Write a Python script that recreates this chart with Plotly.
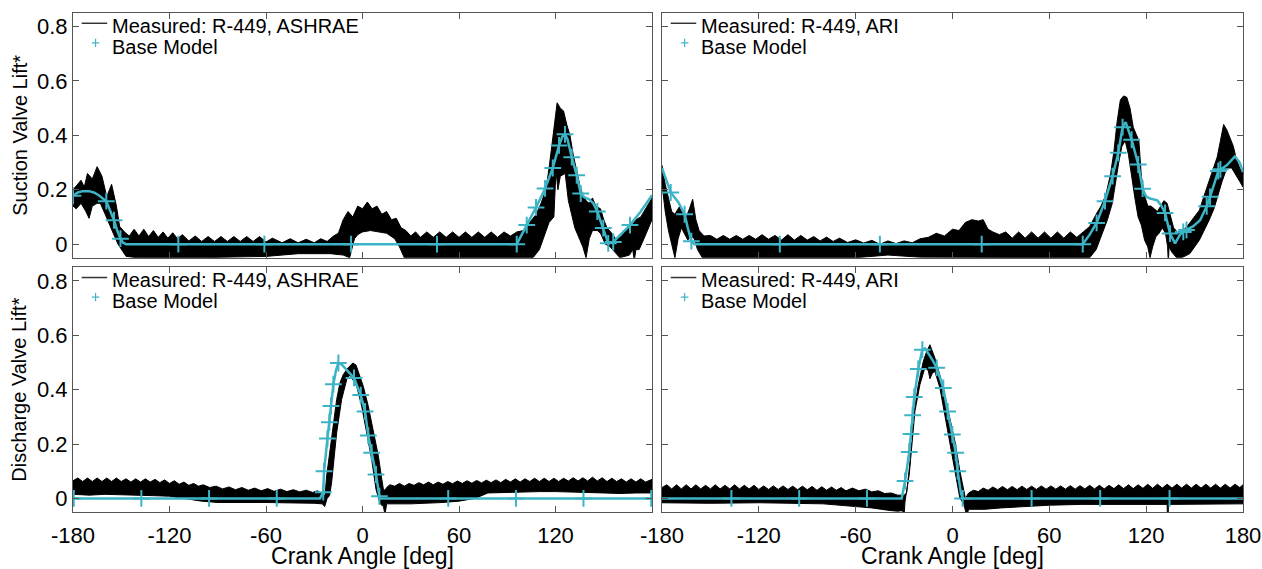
import plotly.graph_objects as go

# ---------------- tick labels ----------------
x_tick_vals = [-180, -120, -60, 0, 60, 120, 180]
x_tick_text_left = ['-180', '-120', '-60', '0', '60', '120', '']
x_tick_text_right = ['-180', '-120', '-60', '0', '60', '120', '180']
y_tick_vals = [0, 0.2, 0.4, 0.6, 0.8]
y_tick_text = ['0', '0.2', '0.4', '0.6', '0.8']

measured_names = ['Measured: R-449, ASHRAE', 'Measured: R-449, ARI',
                  'Measured: R-449, ASHRAE', 'Measured: R-449, ARI']
model_name = 'Base Model'
y_titles = ['Suction Valve Lift*', 'Discharge Valve Lift*']
x_title = 'Crank Angle [deg]'

# ---------------- Panel A: suction, ASHRAE ----------------
A_up = [(-180,0.20),(-177,0.22),(-175,0.235),(-173,0.21),(-171,0.26),(-168,0.24),(-165,0.285),(-162,0.25),
        (-159,0.175),(-156,0.22),(-153,0.14),(-151,0.065),(-148,0.045),(-145,0.03),(-142,0.055),(-139,0.03),
        (-136,0.055),(-133,0.028),(-130,0.05),(-127,0.025),(-124,0.045),(-121,0.022),(-118,0.042),(-115,0.02),
        (-112,0.035),(-108,0.012),(-104,0.03),(-100,0.01),(-96,0.028),(-92,0.01),(-88,0.028),(-84,0.01),
        (-80,0.028),(-76,0.01),(-72,0.028),(-68,0.01),(-64,0.028),(-60,0.008),(-56,0.022),(-50,0.005),
        (-45,0.02),(-40,0.005),(-35,0.018),(-30,0.005),(-26,0.02),(-22,0.01),(-18,0.03),(-15,0.04),
        (-12,0.09),(-9,0.12),(-6,0.10),(-3,0.14),(0,0.13),(3,0.155),(6,0.13),(9,0.14),(12,0.11),(15,0.12),
        (18,0.09),(21,0.095),(24,0.06),(27,0.05),(30,0.03),(33,0.045),(36,0.025),(40,0.045),(44,0.025),
        (48,0.045),(52,0.025),(56,0.045),(60,0.025),(64,0.045),(68,0.025),(72,0.045),(76,0.025),(80,0.045),
        (84,0.025),(88,0.045),(92,0.03),(96,0.045),(100,0.05),(104,0.08),(108,0.11),(111,0.15),(114,0.20),
        (116,0.28),(118,0.38),(120,0.47),(121,0.52),(123,0.50),(125,0.49),(127,0.44),(129,0.40),(131,0.33),
        (133,0.27),(135,0.22),(137,0.18),(139,0.16),(141,0.15),(143,0.17),(145,0.14),(148,0.13),(150,0.09),
        (152,0.06),(155,0.04),(158,0.015),(161,0.03),(164,0.05),(167,0.07),(170,0.09),(173,0.10),(176,0.13),
        (178,0.15),(180,0.17)]
A_lo = [(-180,0.14),(-178,0.13),(-175,0.15),(-172,0.12),(-170,0.095),(-168,0.14),(-165,0.15),(-163,0.15),
        (-160,0.11),(-157,0.07),(-155,0.04),(-152,0.0),(-150,-0.02),(-147,-0.045),(-140,-0.05),(-100,-0.05),
        (-60,-0.045),(-40,-0.035),(-20,-0.035),(-12,-0.04),(-8,-0.05),(-5,0.02),(-3,0.035),(0,0.045),
        (5,0.05),(10,0.045),(15,0.04),(20,0.02),(23,-0.01),(26,-0.05),(106,-0.05),(110,-0.02),(113,0.03),
        (116,0.08),(119,0.10),(120.3,0.27),(121.5,0.20),(123,0.25),(126,0.26),(128,0.16),(130,0.11),
        (132,0.06),(134,0.03),(137,-0.01),(139,-0.05),(141,0.02),(143,0.05),(146,0.05),(148,0.04),(151,0.0),
        (154,-0.01),(157,-0.03),(160,-0.05),(166,-0.04),(168,-0.02),(169,-0.06),(170,-0.02),(172,-0.02),
        (175,0.02),(178,0.06),(180,0.09)]
A_model = [(-180,0.178),(-177,0.19),(-174,0.195),(-170,0.195),(-167,0.19),(-164,0.18),(-161.5,0.168),
           (-159.3,0.158),(-157,0.125),(-154.5,0.088),(-152.5,0.05),(-150.5,0.02),(-149,0.006),(-147,0.0),
           (95.9,0.0),(102.1,0.07),(107.9,0.135),(113.5,0.205),(118.3,0.28),(122.2,0.363),(124.2,0.395),
           (125.9,0.404),(127.5,0.385),(130.1,0.32),(133.2,0.253),(135.7,0.186),(138,0.172),(141,0.165),
           (143.5,0.15),(146,0.12),(149.7,0.059),(152.8,0.003),(155.9,0.008),(161,0.04),(166.3,0.07),
           (173,0.12),(180,0.18)]
A_marks = [(-180,0.178),(-159.3,0.158),(-154.5,0.088),(-150.5,0.02),(-114.5,0),(-61,0),(-7.1,0),(46.3,0),
           (95.9,0),(102.1,0.07),(107.9,0.135),(113.5,0.205),(118.3,0.28),(122.2,0.363),(125.9,0.404),
           (130.1,0.32),(133.2,0.253),(135.7,0.186),(146,0.12),(149.7,0.059),(152.8,0.003),(155.9,0.008),
           (166.3,0.07)]

# ---------------- Panel B: suction, ARI ----------------
B_up = [(-180,0.29),(-178,0.22),(-176,0.17),(-174,0.12),(-172,0.11),(-169,0.14),(-167,0.12),(-165,0.10),
        (-163,0.13),(-161,0.165),(-159,0.09),(-157,0.05),(-154,0.03),(-150,0.032),(-146,0.018),(-142,0.032),
        (-138,0.018),(-134,0.032),(-130,0.018),(-126,0.032),(-122,0.018),(-118,0.035),(-114,0.018),
        (-110,0.032),(-106,0.015),(-102,0.035),(-98,0.015),(-94,0.032),(-90,0.015),(-86,0.028),(-82,0.012),
        (-78,0.026),(-74,0.01),(-70,0.022),(-65,0.006),(-60,0.016),(-55,0.004),(-50,0.014),(-45,0.0),
        (-40,0.012),(-35,0.002),(-30,0.012),(-25,0.005),(-20,0.02),(-15,0.025),(-10,0.04),(-5,0.03),
        (0,0.055),(4,0.05),(8,0.08),(12,0.09),(16,0.085),(19,0.09),(22,0.055),(25,0.045),(29,0.035),
        (33,0.045),(37,0.022),(41,0.045),(45,0.022),(49,0.045),(53,0.022),(57,0.045),(61,0.022),(65,0.045),
        (69,0.022),(73,0.045),(77,0.025),(81,0.045),(85,0.065),(89,0.11),(92,0.14),(95,0.18),(98,0.26),
        (100,0.34),(102,0.45),(104,0.53),(106,0.545),(108,0.54),(110,0.50),(112,0.43),(114,0.40),
        (115.5,0.38),(117,0.25),(119,0.18),(121,0.14),(123,0.14),(125,0.13),(127,0.12),(129,0.14),
        (131,0.16),(133,0.15),(135,0.10),(137,0.06),(140,0.04),(143,0.05),(146,0.07),(150,0.10),
        (153,0.125),(156,0.18),(159,0.235),(162,0.29),(164,0.32),(166,0.38),(168,0.44),(170,0.42),
        (172,0.39),(174,0.36),(176,0.31),(178,0.28),(180,0.26)]
B_lo = [(-180,0.22),(-178,0.12),(-176,0.05),(-174,0.0),(-172,-0.05),(-170,0.02),(-168,0.06),(-166,0.04),
        (-164,0.015),(-162,0.03),(-160,0.02),(-158,-0.02),(-155,-0.05),(-60,-0.05),(-40,-0.04),(-20,-0.048),
        (85,-0.05),(89,-0.02),(93,0.04),(96,0.09),(99,0.15),(101,0.22),(103,0.30),(105,0.36),(107,0.38),
        (109,0.33),(111,0.25),(113,0.17),(115,0.10),(117,0.07),(119,0.015),(121,-0.01),(122.4,-0.05),
        (124,-0.01),(126,0.027),(128,0.04),(130,0.06),(132,0.04),(133.3,-0.01),(133.7,-0.07),(134.2,-0.01),
        (136,-0.03),(138.9,-0.05),(142,-0.05),(147,-0.035),(150,-0.01),(153,0.015),(156,0.05),(159,0.088),
        (162,0.13),(164,0.17),(167,0.23),(170,0.28),(173,0.28),(176,0.25),(178,0.23),(180,0.21)]
B_model = [(-180,0.28),(-177,0.23),(-174.6,0.19),(-170,0.155),(-166,0.11),(-164,0.06),(-161.8,0.011),
           (-160,0.0),(80.7,0.0),(85,0.035),(89.3,0.078),(94.5,0.158),(99.2,0.25),(102.7,0.336),(105.4,0.43),
           (107.3,0.449),(111,0.384),(115.1,0.293),(117.8,0.204),(120,0.175),(122.4,0.168),(126.9,0.161),
           (129,0.145),(131.7,0.115),(134.8,0.039),(137.9,0.003),(141,0.035),(144.1,0.05),(149.2,0.066),
           (153.4,0.088),(157.5,0.139),(159.6,0.174),(164.7,0.269),(169.9,0.29),(175,0.323),(178,0.30),
           (180,0.265)]
B_marks = [(-174.6,0.19),(-166,0.11),(-161.8,0.011),(-107,0),(-45,0),(18.1,0),(80.7,0),(89.3,0.078),
           (94.5,0.158),(99.2,0.25),(102.7,0.336),(105.4,0.43),(111,0.384),(115.1,0.293),(117.8,0.204),
           (131.7,0.115),(134.8,0.039),(143,0.045),(145,0.052),(157.5,0.139),(159.6,0.174),(164.7,0.269),
           (166,0.275)]

# ---------------- Panel C: discharge, ASHRAE ----------------
C_up = [(-180,0.065),(-177,0.075),(-174,0.062),(-171,0.075),(-168,0.062),(-165,0.075),(-162,0.062),
        (-159,0.075),(-156,0.062),(-153,0.075),(-150,0.062),(-147,0.072),(-144,0.06),(-141,0.072),
        (-138,0.06),(-135,0.072),(-132,0.06),(-129,0.07),(-126,0.058),(-123,0.068),(-120,0.055),
        (-117,0.065),(-114,0.052),(-111,0.06),(-108,0.048),(-105,0.055),(-102,0.045),(-99,0.05),(-95,0.04),
        (-91,0.045),(-87,0.035),(-83,0.042),(-79,0.032),(-75,0.04),(-71,0.03),(-67,0.038),(-63,0.028),
        (-59,0.036),(-55,0.026),(-51,0.034),(-47,0.025),(-43,0.032),(-39,0.024),(-35,0.03),(-31,0.022),
        (-28,0.028),(-26,0.02),(-23.3,0.01),(-22.3,0.082),(-20.2,0.18),(-18.1,0.279),(-16.1,0.363),
        (-14,0.425),(-12,0.455),(-9,0.48),(-6,0.498),(-4,0.49),(-2.6,0.467),(0.5,0.412),(3.6,0.339),
        (6.7,0.241),(9.9,0.155),(12,0.07),(13,0.033),(14,0.03),(15,0.04),(17,0.05),(20,0.045),(23,0.055),
        (26,0.045),(29,0.055),(32,0.048),(35,0.058),(38,0.05),(41,0.06),(44,0.05),(47,0.06),(50,0.052),
        (53,0.062),(56,0.054),(59,0.064),(62,0.055),(65,0.065),(68,0.056),(71,0.066),(74,0.057),(77,0.067),
        (80,0.058),(83,0.068),(86,0.058),(89,0.07),(92,0.06),(95,0.072),(98,0.06),(101,0.072),(104,0.062),
        (107,0.074),(110,0.062),(113,0.074),(116,0.062),(119,0.074),(122,0.062),(125,0.074),(128,0.064),
        (131,0.076),(134,0.064),(137,0.076),(140,0.064),(143,0.078),(146,0.064),(149,0.076),(152,0.062),
        (155,0.074),(158,0.062),(161,0.072),(164,0.06),(167,0.072),(170,0.06),(173,0.072),(176,0.06),
        (180,0.07)]
C_lo = [(-180,0.015),(-170,0.012),(-160,0.015),(-150,0.012),(-140,0.012),(-130,0.01),(-120,0.008),
        (-110,0.0),(-100,-0.01),(-90,-0.015),(-80,-0.015),(-70,-0.015),(-60,-0.015),(-50,-0.016),
        (-40,-0.016),(-30,-0.018),(-25,-0.02),(-23.5,-0.03),(-22,0.0),(-20.5,0.01),(-19.2,0.058),
        (-16.1,0.24),(-13,0.363),(-9.8,0.437),(-7.8,0.455),(-3.6,0.412),(-0.5,0.339),(2.6,0.241),
        (5.7,0.143),(8.4,0.033),(9.9,0.0),(11,-0.02),(13,-0.03),(14,-0.06),(15,-0.02),(20,-0.02),
        (30,-0.02),(40,-0.018),(50,-0.015),(60,-0.01),(70,0.0),(78,0.02),(90,0.022),(100,0.024),
        (110,0.025),(120,0.025),(130,0.024),(140,0.022),(150,0.02),(160,0.018),(170,0.02),(180,0.02)]
C_model = [(-180,0),(-26.4,0),(-24.4,0.023),(-23.9,0.1),(-21.8,0.22),(-20.6,0.28),(-19.6,0.34),
           (-18.1,0.42),(-16.5,0.47),(-15,0.498),(-13,0.493),(-10.9,0.48),(-8,0.463),(-5.3,0.443),
           (-1.1,0.38),(1.6,0.32),(3.6,0.231),(5.7,0.168),(8.4,0.088),(10.5,0.008),(11,0),(180,0)]
C_marks = [(-179.5,0),(-137.5,0),(-95.4,0),(-53.3,0),(-24.4,0.023),(-23.9,0.1),(-21.8,0.22),(-20.6,0.28),
           (-19.6,0.34),(-18.1,0.42),(-15,0.498),(-5.3,0.443),(-1.1,0.38),(1.6,0.32),(3.6,0.231),
           (5.7,0.168),(8.4,0.088),(10.5,0.008),(53.3,0),(95.4,0),(137.4,0),(179.5,0)]

# ---------------- Panel D: discharge, ARI ----------------
D_up = [(-180,0.04),(-177,0.05),(-174,0.035),(-171,0.05),(-168,0.035),(-165,0.05),(-162,0.035),
        (-159,0.05),(-156,0.035),(-153,0.048),(-150,0.035),(-147,0.05),(-144,0.035),(-141,0.048),
        (-138,0.035),(-135,0.05),(-132,0.035),(-129,0.048),(-126,0.035),(-123,0.048),(-120,0.033),
        (-117,0.046),(-114,0.033),(-111,0.046),(-108,0.033),(-105,0.046),(-102,0.033),(-99,0.045),
        (-96,0.032),(-93,0.045),(-90,0.032),(-87,0.044),(-84,0.03),(-81,0.043),(-78,0.03),(-75,0.042),
        (-72,0.03),(-69,0.04),(-66,0.028),(-62,0.038),(-58,0.028),(-54,0.034),(-50,0.024),(-46,0.028),
        (-42,0.018),(-38,0.02),(-34,0.012),(-30,0.012),(-28.4,0.02),(-26.3,0.137),(-24.3,0.296),
        (-21.2,0.418),(-18.1,0.504),(-16,0.54),(-14,0.565),(-12.5,0.54),(-10.9,0.516),(-6.7,0.43),
        (-2.6,0.32),(1.5,0.21),(4.6,0.10),(7,0.02),(8,0.0),(10,0.02),(13,0.03),(16,0.025),(19,0.038),
        (22,0.03),(25,0.042),(28,0.032),(31,0.044),(34,0.032),(37,0.044),(40,0.032),(43,0.045),(46,0.033),
        (49,0.045),(52,0.033),(55,0.046),(58,0.034),(61,0.046),(64,0.034),(67,0.046),(70,0.034),(73,0.047),
        (76,0.034),(79,0.047),(82,0.035),(85,0.048),(88,0.035),(91,0.048),(94,0.035),(97,0.048),(100,0.036),
        (103,0.05),(106,0.036),(109,0.05),(112,0.036),(115,0.05),(118,0.037),(121,0.052),(124,0.037),
        (127,0.052),(130,0.038),(133,0.052),(136,0.038),(139,0.052),(142,0.038),(145,0.052),(148,0.038),
        (151,0.052),(154,0.038),(157,0.052),(160,0.038),(163,0.052),(166,0.038),(169,0.052),(172,0.038),
        (175,0.052),(178,0.04),(180,0.05)]
D_lo = [(-180,-0.016),(-150,-0.018),(-120,-0.016),(-100,-0.018),(-80,-0.02),(-70,-0.025),(-60,-0.03),
        (-50,-0.035),(-44,-0.04),(-38,-0.045),(-34,-0.047),(-31,-0.045),(-30,-0.062),(-29.4,-0.01),
        (-26.8,0.088),(-25.3,0.198),(-23.3,0.32),(-20.2,0.418),(-17.1,0.48),(-15,0.47),(-14,0.44),
        (-12.5,0.46),(-10.9,0.467),(-7.8,0.406),(-4.7,0.308),(-1.6,0.21),(1.5,0.10),(4.6,0.0),(7,-0.02),
        (8.8,-0.065),(10,-0.04),(20,-0.04),(30,-0.035),(40,-0.03),(50,-0.028),(60,-0.025),(80,-0.022),
        (133,-0.022),(133.2,-0.08),(133.6,-0.08),(133.8,-0.022),(150,-0.02),(180,-0.02)]
D_model = [(-180,0),(-31.5,0),(-29.4,0.064),(-26.8,0.171),(-25.7,0.237),(-24.7,0.306),(-23.7,0.373),
           (-21.2,0.476),(-18.7,0.547),(-17,0.552),(-15,0.535),(-12,0.505),(-9.8,0.48),(-5.7,0.406),
           (-3,0.32),(-0.1,0.235),(2,0.168),(3.2,0.10),(5.2,0.02),(6.3,0),(180,0)]
D_marks = [(-137,0),(-95,0),(-53,0),(-29.4,0.064),(-26.8,0.171),(-25.7,0.237),(-24.7,0.306),(-23.7,0.373),
           (-21.2,0.476),(-18.7,0.547),(-9.8,0.48),(-5.7,0.406),(-3,0.32),(-0.1,0.235),(2,0.168),
           (3.2,0.10),(6.3,0),(49,0),(91.5,0),(134.5,0)]

panels = [(A_up, A_lo, A_model, A_marks), (B_up, B_lo, B_model, B_marks),
          (C_up, C_lo, C_model, C_marks), (D_up, D_lo, D_model, D_marks)]

CYAN = '#3DB4C6'
FONT = 'Liberation Sans, Arial, Helvetica, sans-serif'
AXC = '#555555'

W, H = 1262, 569
ML, MR, MT, MB = 73, 19, 13, 56.5
PW, PH = W - ML - MR, H - MT - MB
x_dom = [[0, 579 / PW], [(662 - 73) / PW, 1]]
y_dom = [[(512.5 - 258) / PH, 1], [0, 245 / PH]]

fig = go.Figure()


def xy(pairs):
    return [p[0] for p in pairs], [p[1] for p in pairs]


for i, (up, lo, model, marks) in enumerate(panels):
    n = '' if i == 0 else str(i + 1)
    xa, ya = 'x' + n, 'y' + n
    ux, uy = xy(up)
    lx, ly = xy(lo)
    fig.add_trace(go.Scatter(x=ux + lx[::-1], y=uy + ly[::-1], mode='lines', fill='toself',
                             fillcolor='black', line=dict(color='black', width=1),
                             xaxis=xa, yaxis=ya, showlegend=False, hoverinfo='skip'))
    mx, my = xy(model)
    fig.add_trace(go.Scatter(x=mx, y=my, mode='lines', line=dict(color=CYAN, width=2.5),
                             xaxis=xa, yaxis=ya, showlegend=False))
    kx, ky = xy(marks)
    fig.add_trace(go.Scatter(x=kx, y=ky, mode='markers',
                             marker=dict(symbol='cross-thin', size=12, line=dict(color=CYAN, width=2)),
                             xaxis=xa, yaxis=ya, showlegend=False))

common = dict(showline=True, linecolor=AXC, linewidth=1, mirror='ticks', ticks='inside', ticklen=6,
              tickcolor=AXC, showgrid=False, zeroline=False, automargin=False,
              tickfont=dict(family=FONT, size=22, color='black'))

layout = dict(width=W, height=H, margin=dict(l=ML, r=MR, t=MT, b=MB, autoexpand=False),
              paper_bgcolor='white', plot_bgcolor='white', showlegend=False,
              font=dict(family=FONT, color='black'))
shapes, annos = [], []
for i in range(4):
    n = '' if i == 0 else str(i + 1)
    row, col = i // 2, i % 2
    xa = dict(common, domain=x_dom[col], range=[-180, 180], tickvals=x_tick_vals,
              ticktext=(x_tick_text_left if col == 0 else x_tick_text_right),
              anchor='y' + n, showticklabels=(row == 1), ticklabelstandoff=4)
    if row == 1:
        xa['title'] = dict(text=x_title, font=dict(family=FONT, size=23), standoff=14)
    ya = dict(common, domain=y_dom[row], range=[-0.05, 0.85], tickvals=y_tick_vals, ticktext=y_tick_text,
              anchor='x' + n, showticklabels=(col == 0), ticklabelstandoff=0)
    if col == 0:
        ya['title'] = dict(text=y_titles[row], font=dict(family=FONT, size=20), standoff=4)
    layout['xaxis' + n] = xa
    layout['yaxis' + n] = ya
    xr, yr = 'x' + n + ' domain', 'y' + n + ' domain'
    # legend samples
    shapes.append(dict(type='line', xref=xr, yref=yr, x0=0.015, x1=0.059, y0=0.958, y1=0.958,
                       line=dict(color='#333', width=1.5)))
    shapes.append(dict(type='line', xref=xr, yref=yr, x0=0.0325, x1=0.0455, y0=0.878, y1=0.878,
                       line=dict(color=CYAN, width=1.2)))
    shapes.append(dict(type='line', xref=xr, yref=yr, x0=0.039, x1=0.039, y0=0.861, y1=0.895,
                       line=dict(color=CYAN, width=1.2)))
    annos.append(dict(text=measured_names[i], xref=xr, yref=yr, x=0.066, y=0.947, xanchor='left',
                      yanchor='middle', showarrow=False, borderpad=0,
                      font=dict(family=FONT, size=20, color='black')))
    annos.append(dict(text=model_name, xref=xr, yref=yr, x=0.066, y=0.862, xanchor='left',
                      yanchor='middle', showarrow=False, borderpad=0,
                      font=dict(family=FONT, size=20, color='black')))
layout['shapes'] = shapes
layout['annotations'] = annos
fig.update_layout(**layout)

# remove the browser's default 8px body margin so the figure sits exactly in the 1262x569 window
fig.write_html('out.html', config={'displayModeBar': False},
               post_script="document.body.style.margin='0';document.body.style.overflow='hidden';")
